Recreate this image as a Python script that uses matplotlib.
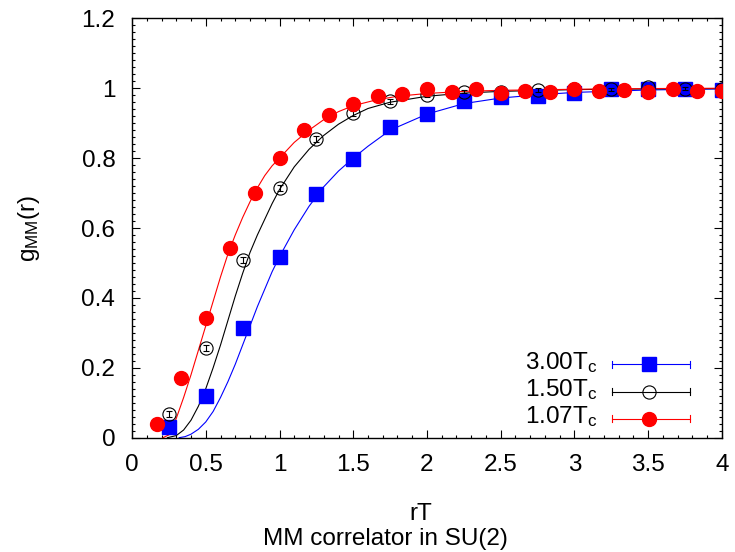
import matplotlib
matplotlib.use("Agg")
import matplotlib.pyplot as plt
from matplotlib.ticker import MultipleLocator
from matplotlib.lines import Line2D

plt.rcParams['font.family'] = ['Liberation Sans', 'DejaVu Sans']
plt.rcParams['mathtext.default'] = 'regular'

# lattice data, g_MM(r) vs rT
r_300 = [0.25, 0.5, 0.75, 1.0, 1.25, 1.5, 1.75, 2.0, 2.25, 2.5, 2.75, 3.0, 3.25, 3.5, 3.75, 4.0]
g_300 = [0.030, 0.120, 0.313, 0.518, 0.697, 0.798, 0.890, 0.926, 0.962, 0.976,
         0.978, 0.986, 0.997, 0.997, 0.997, 0.996]
e_300 = [0.004, 0.004, 0.004, 0.004, 0.004, 0.004, 0.004, 0.004, 0.004, 0.004,
         0.004, 0.004, 0.004, 0.004, 0.004, 0.004]

r_150 = [0.25, 0.5, 0.75, 1.0, 1.25, 1.5, 1.75, 2.0, 2.25, 2.5, 2.75, 3.0, 3.25, 3.5, 3.75, 4.0]
g_150 = [0.068, 0.256, 0.509, 0.715, 0.854, 0.928, 0.962, 0.981, 0.990, 0.990,
         0.995, 0.997, 0.997, 1.003, 0.999, 0.997]
e_150 = [0.008, 0.008, 0.008, 0.009, 0.008, 0.007, 0.006, 0.006, 0.005, 0.005,
         0.005, 0.005, 0.005, 0.005, 0.005, 0.005]

r_107 = [1/6, 2/6, 3/6, 4/6, 5/6, 1.0, 7/6, 8/6, 1.5, 10/6, 11/6, 2.0,
         13/6, 14/6, 2.5, 16/6, 17/6, 3.0, 19/6, 20/6, 3.5, 22/6, 23/6, 4.0]
g_107 = [0.039, 0.172, 0.342, 0.542, 0.701, 0.800, 0.881, 0.923, 0.954, 0.977, 0.984, 0.997,
         0.990, 0.997, 0.986, 0.992, 0.988, 0.997, 0.993, 0.995, 0.990, 0.997, 0.992, 0.993]
e_107 = [0.003] * 24

# fit curves
fr_300 = [0.32, 0.36, 0.40, 0.45, 0.50, 0.55, 0.60, 0.65, 0.70, 0.75, 0.80, 0.85, 0.90, 0.95,
          1.00, 1.10, 1.20, 1.30, 1.40, 1.50, 1.60, 1.75, 2.00, 2.25, 2.50, 2.75, 3.00, 3.50, 4.00]
fg_300 = [0.0, 0.003, 0.010, 0.024, 0.045, 0.075, 0.115, 0.160, 0.210, 0.265, 0.320, 0.375,
          0.425, 0.475, 0.518, 0.595, 0.662, 0.718, 0.763, 0.800, 0.834, 0.880, 0.926, 0.956,
          0.972, 0.981, 0.988, 0.995, 0.998]

fr_150 = [0.24, 0.30, 0.35, 0.40, 0.45, 0.50, 0.55, 0.60, 0.65, 0.70, 0.75, 0.80, 0.85, 0.90,
          0.95, 1.00, 1.10, 1.20, 1.30, 1.40, 1.50, 1.60, 1.75, 2.00, 2.25, 2.50, 3.00, 3.50, 4.00]
fg_150 = [0.0, 0.006, 0.022, 0.050, 0.090, 0.140, 0.200, 0.265, 0.335, 0.405, 0.470, 0.530,
          0.580, 0.625, 0.670, 0.710, 0.775, 0.825, 0.865, 0.897, 0.922, 0.942, 0.960, 0.977,
          0.986, 0.991, 0.996, 0.998, 0.999]

fr_107 = [0.21, 0.25, 0.30, 0.35, 0.40, 0.45, 0.50, 0.55, 0.60, 0.65, 0.70, 0.75, 0.80, 0.85,
          0.90, 0.95, 1.00, 1.10, 1.20, 1.30, 1.40, 1.50, 1.65, 1.80, 2.00, 2.25, 2.50, 3.00,
          3.50, 4.00]
fg_107 = [0.0, 0.008, 0.055, 0.115, 0.180, 0.250, 0.320, 0.390, 0.460, 0.525, 0.580, 0.630,
          0.675, 0.715, 0.750, 0.778, 0.800, 0.845, 0.880, 0.910, 0.933, 0.950, 0.966, 0.977,
          0.985, 0.991, 0.994, 0.997, 0.999, 1.000]

labels = ['3.00T$_c$', '1.50T$_c$', '1.07T$_c$']
xticks = [0, 0.5, 1, 1.5, 2, 2.5, 3, 3.5, 4]
xtick_labels = ['0', '0.5', '1', '1.5', '2', '2.5', '3', '3.5', '4']
yticks = [0, 0.2, 0.4, 0.6, 0.8, 1.0, 1.2]
ytick_labels = ['0', '0.2', '0.4', '0.6', '0.8', '1', '1.2']

FS = 17.5

fig = plt.figure(figsize=(7.35, 5.52), dpi=100)
ax = fig.add_axes([0.1796, 0.2071, 0.8027, 0.7597])

ax.plot(fr_300, fg_300, color='blue', lw=0.8)
ax.plot(fr_150, fg_150, color='black', lw=0.8)
ax.plot(fr_107, fg_107, color='red', lw=0.8)

ax.errorbar(r_300, g_300, yerr=e_300, fmt='s', color='blue', ms=10, elinewidth=0.8,
            capsize=2, zorder=3)
ax.errorbar(r_150, g_150, yerr=e_150, fmt='o', color='black', mfc='none', mew=0.8, ms=9.5,
            elinewidth=0.8, capsize=2, zorder=4)
ax.errorbar(r_107, g_107, yerr=e_107, fmt='o', color='red', ms=10, elinewidth=0.8,
            capsize=2, zorder=5)

ax.set_xlim(0, 4)
ax.set_ylim(0, 1.2)
ax.set_xticks(xticks)
ax.set_xticklabels(xtick_labels)
ax.set_yticks(yticks)
ax.set_yticklabels(ytick_labels)
ax.xaxis.set_minor_locator(MultipleLocator(0.1))
ax.yaxis.set_minor_locator(MultipleLocator(0.02))
ax.tick_params(which='both', direction='in', top=True, right=True, labelsize=FS, width=0.8)
ax.tick_params(which='major', length=6)
ax.tick_params(which='minor', length=2.5)
ax.tick_params(axis='x', pad=12)
ax.tick_params(axis='y', pad=12)
for s in ax.spines.values():
    s.set_linewidth(1.0)

fig.text(0.572, 0.058, 'rT', fontsize=FS, ha='center', va='baseline')
fig.text(0.039, 0.587, 'g$_{MM}$(r)', fontsize=FS, ha='center', va='center', rotation=90)
fig.text(0.524, 0.012, 'MM correlator in SU(2)', fontsize=FS, ha='center', va='baseline')

# key: errorbar sample lines with the point symbol in the middle
rows = [0.175, 0.110, 0.045]
colors = ['blue', 'black', 'red']
styles = [dict(marker='s', ms=10), dict(marker='o', ms=9.5, mfc='none', mew=0.8),
          dict(marker='o', ms=10)]
for y, c, st, lab in zip(rows, colors, styles, labels):
    ax.plot([0.813, 0.945], [y, y], color=c, lw=0.8, transform=ax.transAxes, clip_on=False)
    for xe in (0.813, 0.945):
        ax.plot([xe, xe], [y - 0.008, y + 0.008], color=c, lw=0.8, transform=ax.transAxes)
    ax.add_line(Line2D([0.876], [y], color=c, ls='none', transform=ax.transAxes, **st))
    ax.text(0.788, y + 0.005, lab, transform=ax.transAxes, fontsize=FS, ha='right', va='center')

fig.savefig('out.png', dpi=100)
